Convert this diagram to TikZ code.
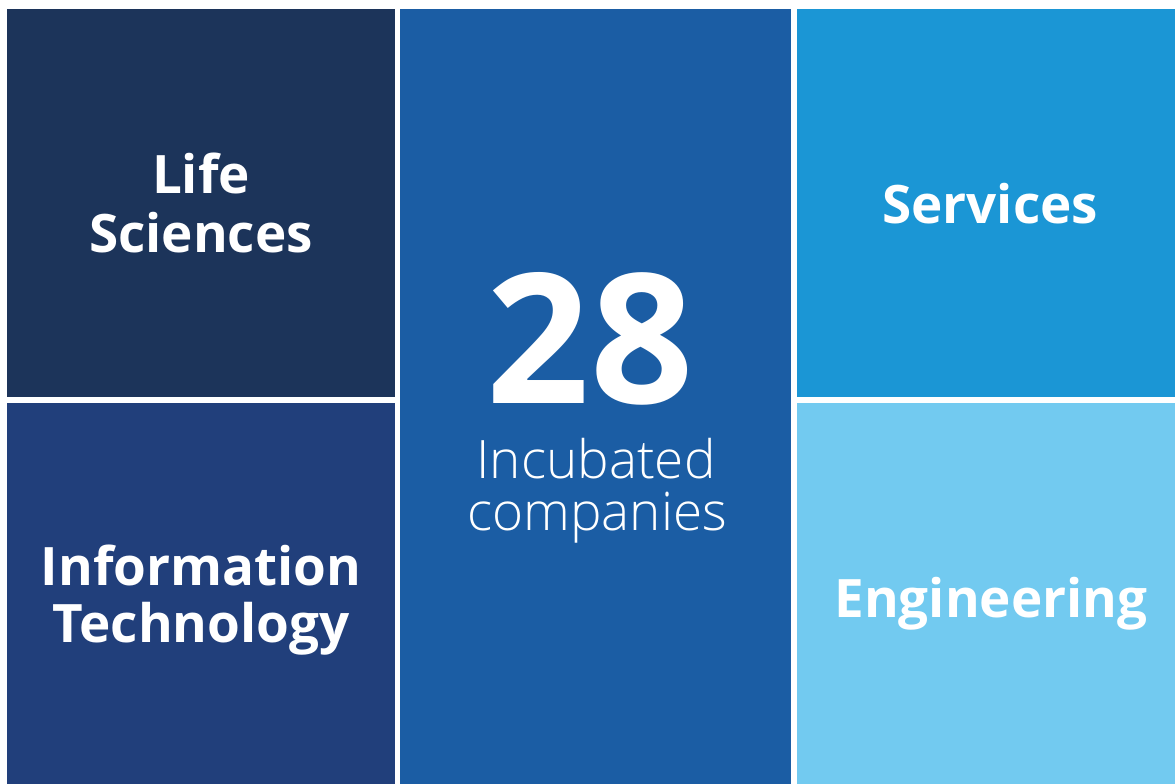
\documentclass[tikz,border=0pt]{standalone}
\usepackage{fontspec}
\setmainfont{Open Sans}
\IfFontExistsTF{Open Sans Light}{\newfontfamily\lightfont{Open Sans Light}}{\newfontfamily\lightfont{Open Sans}}
\definecolor{lsblue}{HTML}{1C345A}
\definecolor{itblue}{HTML}{213F7B}
\definecolor{midblue}{HTML}{1B5DA4}
\definecolor{svblue}{HTML}{1B96D5}
\definecolor{enblue}{HTML}{72CAF0}
\tikzset{
  panel/.style={fill=#1, draw=none},
  label/.style={text=white, font=\fontsize{53}{58}\selectfont\bfseries, align=center, inner sep=0pt, anchor=base},
  sublabel/.style={text=white, font=\lightfont\fontsize{53}{53}\selectfont, inner sep=0pt, anchor=base, text depth=0pt},
}
\begin{document}
\begin{tikzpicture}[x=1pt,y=-1pt]
\useasboundingbox (0,0) rectangle (1175,784);
\fill[white] (0,0) rectangle (1175,784);
\fill[panel=lsblue] (7,9) rectangle (395,397);
\fill[panel=itblue] (7,403) rectangle (395,784);
\fill[panel=midblue] (400,9) rectangle (791,784);
\fill[panel=svblue] (797,9) rectangle (1175,397);
\fill[panel=enblue] (797,403) rectangle (1175,784);
\node[label] (ls1) at (201,193) {Life};
\node[label] (ls2) at (201,252) {Sciences};
\node[label] (it1) at (201,585) {Information};
\node[label] (it2) at (201,642) {Technology};
\node[label] (sv) at (990,223) {Services};
\node[label] (en) at (991,617) {Engineering};
\node[text=white, font=\fontsize{181}{181}\selectfont\bfseries, inner sep=0pt, anchor=base, text depth=0pt] (num) at (590,403) {28};
\node[sublabel, text height=30pt] (inc1) at (596,478) {Incubated};
\node[sublabel, text height=25pt] (inc2) at (597,530) {companies};
\end{tikzpicture}
\end{document}
